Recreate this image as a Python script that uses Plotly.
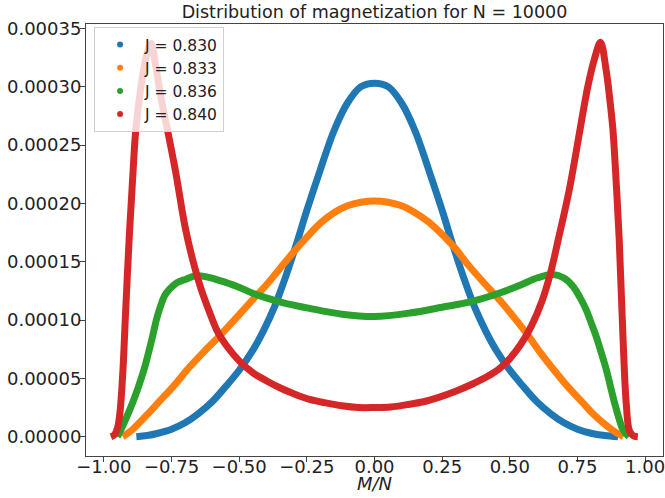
import plotly.graph_objects as go

# ---- data (M/N, probability in units of 1e-5) ----
labels = ["J = 0.830", "J = 0.833", "J = 0.836", "J = 0.840"]
colors = ["#1f77b4", "#ff7f0e", "#2ca02c", "#d62728"]
title_text = "Distribution of magnetization for N = 10000"
xlabel_text = "<i>M/N</i>"
xticks = [-1, -0.75, -0.5, -0.25, 0, 0.25, 0.5, 0.75, 1]
yticks = [0, 0.00005, 0.0001, 0.00015, 0.0002, 0.00025, 0.0003, 0.00035]

m_830 = [-0.88, -0.84, -0.80, -0.75, -0.70, -0.65, -0.60, -0.55, -0.50, -0.45, -0.41, -0.37,
         -0.33, -0.29, -0.25, -0.20, -0.15, -0.10, -0.05, 0.00, 0.05, 0.10, 0.15, 0.20,
         0.25, 0.29, 0.33, 0.37, 0.41, 0.45, 0.50, 0.55, 0.60, 0.65, 0.70, 0.75, 0.80,
         0.85, 0.90]
p_830 = [0.0, 0.1, 0.3, 0.65, 1.2, 2.0, 3.0, 4.3, 5.7, 7.4, 9.1, 11.1,
         13.6, 16.4, 19.4, 22.9, 26.2, 28.6, 30.0, 30.3, 30.0, 28.6, 26.2, 22.9,
         19.4, 16.4, 13.6, 11.1, 9.1, 7.4, 5.7, 4.3, 3.0, 2.0, 1.2, 0.65, 0.3,
         0.1, 0.0]

m_833 = [-0.93, -0.90, -0.88, -0.84, -0.80, -0.74, -0.69, -0.63, -0.57, -0.51, -0.46, -0.40,
         -0.35, -0.30, -0.25, -0.20, -0.15, -0.10, -0.05, 0.00, 0.05, 0.10, 0.15, 0.20,
         0.26, 0.30, 0.34, 0.40, 0.47, 0.52, 0.57, 0.61, 0.66, 0.71, 0.77, 0.81, 0.86,
         0.89, 0.92]
p_833 = [0.0, 0.5, 0.95, 1.9, 2.9, 4.4, 5.8, 7.3, 8.7, 10.2, 11.5, 13.0,
         14.4, 15.8, 17.1, 18.3, 19.2, 19.8, 20.1, 20.2, 20.1, 19.8, 19.2, 18.4,
         17.1, 16.1, 14.9, 13.3, 11.5, 10.1, 8.6, 7.3, 5.8, 4.4, 2.9, 1.9, 0.9,
         0.4, 0.0]

m_836 = [-0.95, -0.925, -0.894, -0.872, -0.851, -0.835, -0.82, -0.805, -0.789, -0.775,
         -0.759, -0.73, -0.697, -0.66, -0.62, -0.574, -0.51, -0.45, -0.40, -0.34, -0.24,
         -0.12, 0.00, 0.13, 0.25, 0.36, 0.46, 0.54, 0.60, 0.66, 0.70, 0.733, 0.76, 0.782,
         0.80, 0.819, 0.838, 0.856, 0.872, 0.887, 0.903, 0.918, 0.94]
p_836 = [0.0, 1.2, 2.9, 4.3, 5.8, 7.2, 8.6, 10.1, 11.3, 12.1,
         12.6, 13.2, 13.5, 13.8, 13.7, 13.4, 12.9, 12.3, 11.9, 11.5, 11.0,
         10.5, 10.3, 10.6, 11.1, 11.6, 12.3, 13.0, 13.6, 13.9, 13.6, 12.9, 11.9, 10.9,
         9.8, 8.6, 7.2, 5.8, 4.3, 2.9, 1.6, 0.6, 0.0]

m_840 = [-0.974, -0.96, -0.949, -0.94, -0.93, -0.92, -0.906, -0.893, -0.882, -0.863,
         -0.845, -0.826, -0.81, -0.79, -0.765, -0.734, -0.70, -0.67, -0.64, -0.61, -0.58,
         -0.55, -0.50, -0.45, -0.40, -0.35, -0.30, -0.24, -0.18, -0.12, -0.06, 0.00, 0.06,
         0.12, 0.18, 0.24, 0.30, 0.36, 0.42, 0.46, 0.50, 0.54, 0.58, 0.62, 0.65, 0.68,
         0.72, 0.757, 0.788, 0.813, 0.835, 0.856, 0.87, 0.881, 0.893, 0.904, 0.918, 0.93,
         0.942, 0.955, 0.973]
p_840 = [0.0, 0.2, 0.8, 2.2, 5.5, 10.5, 17.2, 22.4, 26.3, 30.0,
         32.4, 33.7, 32.0, 29.2, 26.3, 22.6, 18.0, 15.0, 12.6, 10.7, 9.0,
         7.9, 6.5, 5.5, 4.8, 4.2, 3.7, 3.2, 2.9, 2.65, 2.5, 2.5, 2.55,
         2.75, 3.0, 3.4, 3.9, 4.5, 5.2, 5.8, 6.7, 7.9, 9.5, 11.7, 14.0, 17.0,
         21.2, 26.0, 30.0, 32.4, 33.8, 31.4, 28.8, 26.3, 21.8, 17.0, 8.6, 2.9,
         0.5, 0.1, 0.0]

series_m = [m_830, m_833, m_836, m_840]
series_p = [p_830, p_833, p_836, p_840]
scale = 1e-5

fig = go.Figure()
for m, p, c in zip(series_m, series_p, colors):
    fig.add_trace(go.Scatter(
        x=m, y=[v * scale for v in p], mode="lines",
        line=dict(color=c, width=7, shape="spline", smoothing=1.0),
        showlegend=False, hoverinfo="skip"))
for lab, c in zip(labels, colors):
    fig.add_trace(go.Scatter(
        x=[None], y=[None], mode="markers", name=lab,
        marker=dict(color=c, size=6)))

axis_common = dict(showline=True, mirror=True, linecolor="#444", linewidth=1,
                   ticks="outside", ticklen=5, tickcolor="#444", tickwidth=1,
                   showgrid=False, zeroline=False, automargin=False,
                   ticklabeloverflow="allow",
                   tickfont=dict(family="DejaVu Sans", size=18, color="#222"))

fig.update_layout(
    width=665, height=498,
    margin=dict(l=86, r=2, t=24, b=42),
    paper_bgcolor="white", plot_bgcolor="white",
    font=dict(family="DejaVu Sans", color="#222"),
    title=dict(text=title_text,
               font=dict(family="DejaVu Sans", size=17.5, color="#222"),
               x=0.5, xref="paper", y=1 - 12 / 498, yref="container",
               xanchor="center", yanchor="middle"),
    xaxis=dict(range=[-1.066, 1.066], tickvals=xticks,
               tickformat=".2f", ticklabelstandoff=-11, **axis_common),
    yaxis=dict(range=[-0.0000165, 0.0003537], tickvals=yticks,
               tickformat=".5f", ticklabelstandoff=-5, **axis_common),
    legend=dict(x=0.014, y=0.993, xanchor="left", yanchor="top",
                bgcolor="rgba(255,255,255,0.8)", bordercolor="#d0d0d0", borderwidth=1,
                font=dict(family="DejaVu Sans", size=15.5, color="#222"),
                itemwidth=40),
    annotations=[dict(text=xlabel_text, xref="paper", yref="paper", x=0.5, y=-27 / 432,
                      xanchor="center", yanchor="middle", showarrow=False,
                      font=dict(family="DejaVu Sans", size=18, color="#222"))],
)

fig.write_html("out.html", config={"displayModeBar": False},
               post_script="document.body.style.margin='0';")
